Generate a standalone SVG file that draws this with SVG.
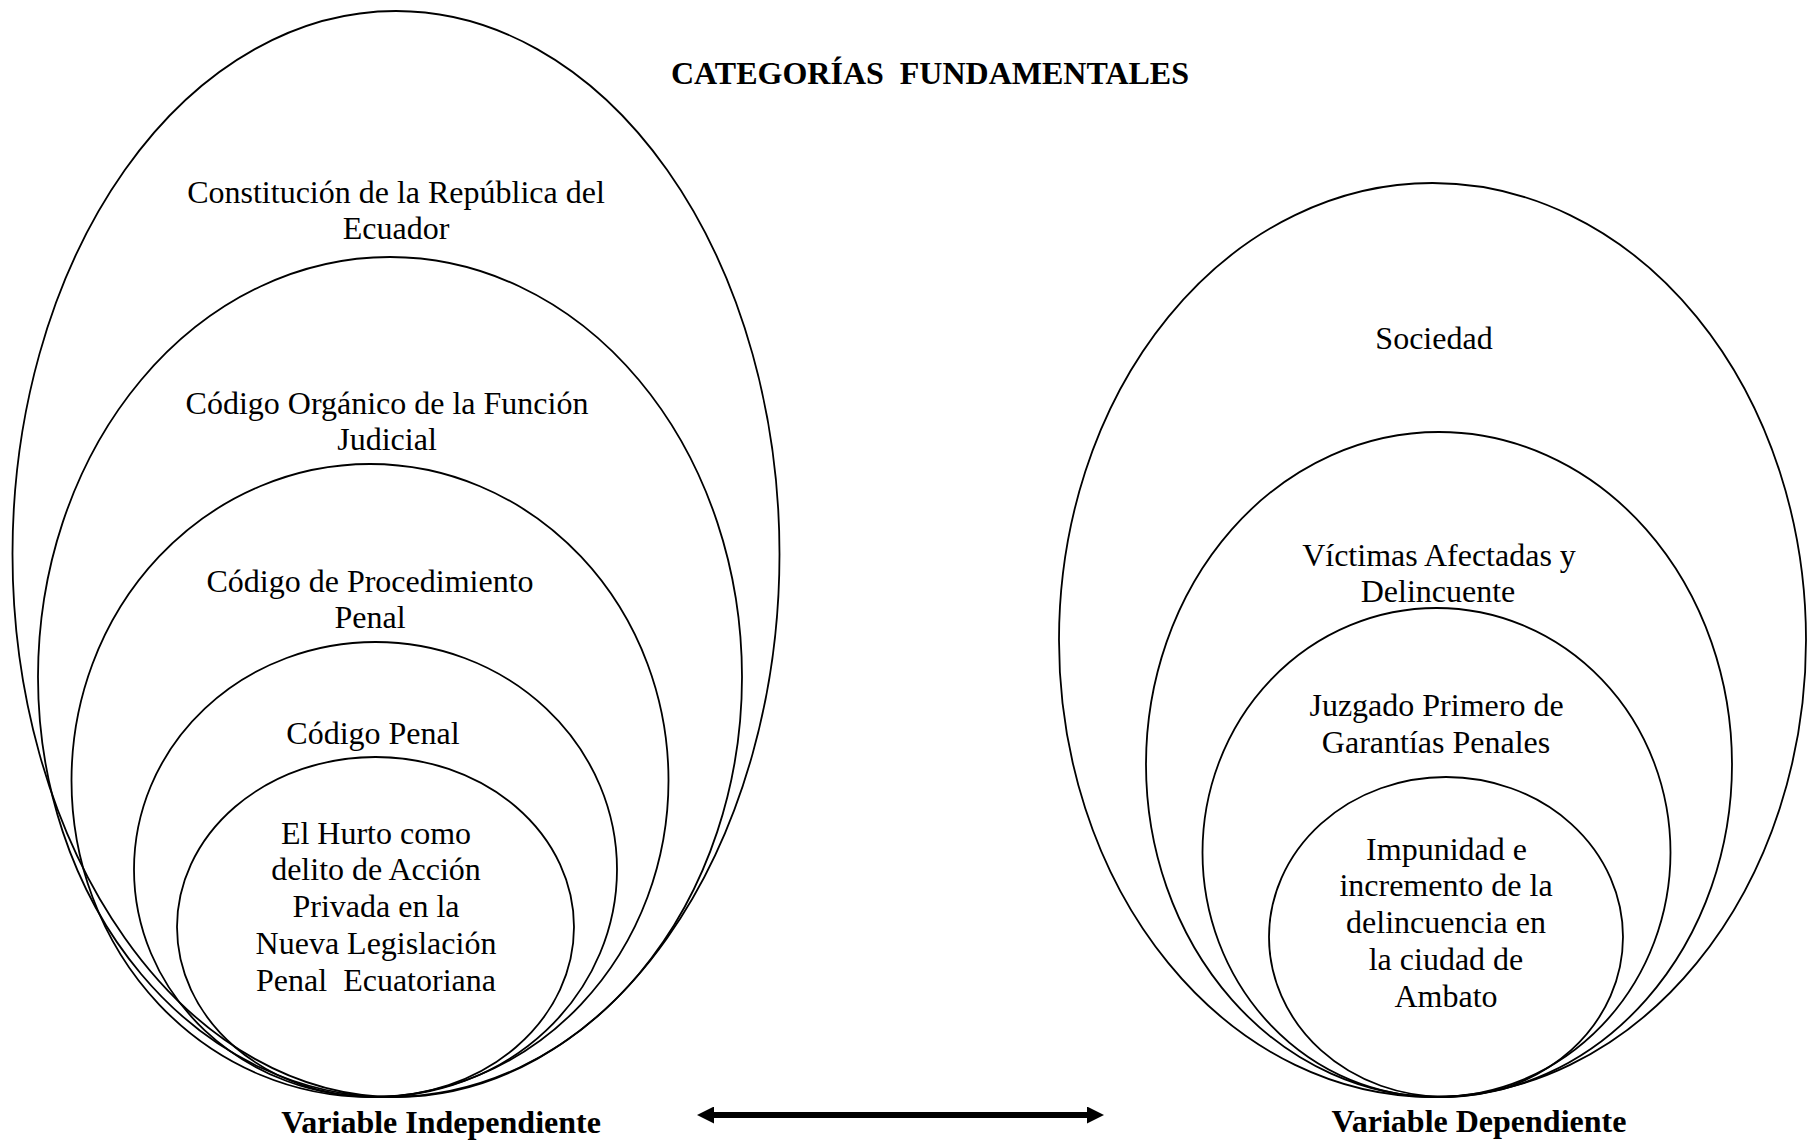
<svg xmlns="http://www.w3.org/2000/svg" width="1807" height="1141" viewBox="0 0 1807 1141">
<style>
  .ov { fill: none; stroke: #000; stroke-width: 1.8; }
  .t { font-family: "Liberation Serif", "Times New Roman", serif; font-size: 32px; fill: #000; text-anchor: middle; white-space: pre; }
  .b { font-family: "Liberation Serif", "Times New Roman", serif; font-size: 32px; font-weight: bold; fill: #000; text-anchor: middle; white-space: pre; }
</style>
<defs>
  <marker id="ah" viewBox="0 0 17 17" refX="9" refY="8.5" markerWidth="17" markerHeight="17" markerUnits="userSpaceOnUse" orient="auto-start-reverse">
    <path d="M0,0 L17,8.5 L0,17 z" fill="#000"/>
  </marker>
</defs>
<rect width="1807" height="1141" fill="#fff"/>

<text id="title" class="b" x="930" y="84">CATEGORÍAS  FUNDAMENTALES</text>

<g id="constitucion">
  <ellipse class="ov" cx="396" cy="554" rx="383.5" ry="543"/>
  <text class="t" x="396" y="203">Constitución de la República del</text>
  <text class="t" x="396" y="239">Ecuador</text>
</g>
<g id="cofj">
  <ellipse class="ov" cx="390" cy="677" rx="352" ry="420"/>
  <text class="t" x="387" y="414">Código Orgánico de la Función</text>
  <text class="t" x="387" y="450">Judicial</text>
</g>
<g id="cpp">
  <ellipse class="ov" cx="370" cy="780.5" rx="298.5" ry="316.5"/>
  <text class="t" x="370" y="592">Código de Procedimiento</text>
  <text class="t" x="370" y="628">Penal</text>
</g>
<g id="cp">
  <ellipse class="ov" cx="375.5" cy="869.5" rx="241.5" ry="227.5"/>
  <text class="t" x="373" y="744">Código Penal</text>
</g>
<g id="hurto">
  <ellipse class="ov" cx="375.5" cy="927" rx="198.5" ry="170"/>
  <text class="t" x="376" y="844">El Hurto como</text>
  <text class="t" x="376" y="880">delito de Acción</text>
  <text class="t" x="376" y="917">Privada en la</text>
  <text class="t" x="376" y="954">Nueva Legislación</text>
  <text class="t" x="376" y="990.5">Penal  Ecuatoriana</text>
</g>
<text id="vi" class="b" x="441" y="1133">Variable Independiente</text>

<g id="sociedad">
  <ellipse class="ov" cx="1432.5" cy="640" rx="373.5" ry="457"/>
  <text class="t" x="1434" y="349">Sociedad</text>
</g>
<g id="victimas">
  <ellipse class="ov" cx="1439" cy="764.5" rx="293" ry="332.5"/>
  <text class="t" x="1439" y="566">Víctimas Afectadas y</text>
  <text class="t" x="1438" y="602">Delincuente</text>
</g>
<g id="juzgado">
  <ellipse class="ov" cx="1436.5" cy="852.5" rx="234" ry="244.5"/>
  <text class="t" x="1436.5" y="716">Juzgado Primero de</text>
  <text class="t" x="1436" y="753">Garantías Penales</text>
</g>
<g id="impunidad">
  <ellipse class="ov" cx="1446" cy="937" rx="177" ry="160"/>
  <text class="t" x="1446.5" y="859.5">Impunidad e</text>
  <text class="t" x="1446" y="896">incremento de la</text>
  <text class="t" x="1446" y="933">delincuencia en</text>
  <text class="t" x="1446" y="970">la ciudad de</text>
  <text class="t" x="1446" y="1007">Ambato</text>
</g>
<text id="vd" class="b" x="1479" y="1132">Variable Dependiente</text>

<g id="connectors">
  <line x1="705" y1="1115" x2="1096" y2="1115" stroke="#000" stroke-width="6" marker-start="url(#ah)" marker-end="url(#ah)"/>
</g>
</svg>
